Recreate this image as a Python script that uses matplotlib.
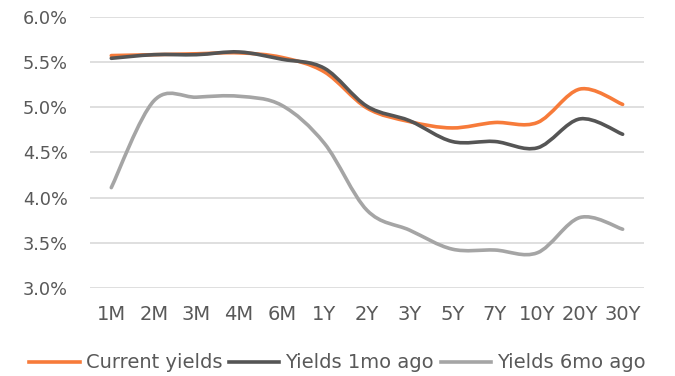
import matplotlib.pyplot as plt
from matplotlib.path import Path
from matplotlib.patches import PathPatch
from matplotlib.lines import Line2D

plt.rcParams['font.family'] = ['DejaVu Sans']

tenors = ["1M", "2M", "3M", "4M", "6M", "1Y", "2Y", "3Y", "5Y", "7Y", "10Y", "20Y", "30Y"]
current = [5.57, 5.58, 5.59, 5.60, 5.55, 5.39, 4.99, 4.84, 4.77, 4.83, 4.83, 5.20, 5.03]
month_ago = [5.54, 5.58, 5.58, 5.61, 5.53, 5.43, 5.01, 4.85, 4.62, 4.62, 4.55, 4.87, 4.70]
six_months_ago = [4.11, 5.07, 5.11, 5.12, 5.02, 4.60, 3.86, 3.64, 3.43, 3.42, 3.39, 3.78, 3.65]

names = ["Current yields", "Yields 1mo ago", "Yields 6mo ago"]
colors = ["#F77B3A", "#555555", "#A5A5A5"]


def smooth_path(ys):
    # Catmull-Rom style cubic Bezier through every point
    pts = list(enumerate(ys))
    verts = [pts[0]]
    codes = [Path.MOVETO]
    n = len(pts)
    for i in range(n - 1):
        p0 = pts[max(i - 1, 0)]
        p1 = pts[i]
        p2 = pts[i + 1]
        p3 = pts[min(i + 2, n - 1)]
        c1 = (p1[0] + (p2[0] - p0[0]) / 6, p1[1] + (p2[1] - p0[1]) / 6)
        c2 = (p2[0] - (p3[0] - p1[0]) / 6, p2[1] - (p3[1] - p1[1]) / 6)
        verts += [c1, c2, p2]
        codes += [Path.CURVE4] * 3
    return Path(verts, codes)


fig = plt.figure(figsize=(6.75, 3.76), dpi=100)
ax = fig.add_axes([0.1333, 0.234, 0.8207, 0.7216])

for ys, c in zip([current, month_ago, six_months_ago], colors):
    ax.add_patch(PathPatch(smooth_path(ys), fill=False, edgecolor=c,
                           linewidth=2.6, capstyle='round', joinstyle='round', zorder=3))

ax.set_xlim(-0.5, len(tenors) - 0.5)
ax.set_ylim(3.0, 6.0)
ax.set_xticks(range(len(tenors)))
ax.set_xticklabels(tenors)
yt = [3.0, 3.5, 4.0, 4.5, 5.0, 5.5, 6.0]
ax.set_yticks(yt)
ax.set_yticklabels([f"{v:.1f}%" for v in yt])
ax.grid(axis='y', color='#D9D9D9', linewidth=1.2)
ax.set_axisbelow(True)
for s in ax.spines.values():
    s.set_visible(False)
ax.tick_params(length=0, colors='#595959')
ax.tick_params(axis='x', labelsize=14, pad=12)
ax.tick_params(axis='y', labelsize=12.8, pad=16)

handles = [Line2D([], [], color=c, linewidth=2.6) for c in colors]
fig.legend(handles, names, loc='center', bbox_to_anchor=(0.5, 0.035), ncol=3,
           frameon=False, fontsize=14, labelcolor='#595959',
           handlelength=2.6, handletextpad=0.3, columnspacing=0.35)

fig.savefig("out.png", dpi=100)
